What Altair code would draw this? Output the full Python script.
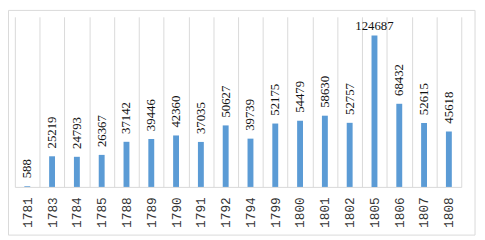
import altair as alt
import pandas as pd

years = ["1781", "1783", "1784", "1785", "1788", "1789", "1790", "1791", "1792",
         "1794", "1799", "1800", "1801", "1802", "1805", "1806", "1807", "1808"]
values = [588, 25219, 24793, 26367, 37142, 39446, 42360, 37035, 50627,
          39739, 52175, 54479, 58630, 52757, 124687, 68432, 52615, 45618]

df = pd.DataFrame({"year": years, "value": values})

W, H = 454, 173

x_enc = alt.X("year:N", sort=None, title=None,
              scale=alt.Scale(paddingInner=0, paddingOuter=0),
              axis=alt.Axis(labelAngle=270, labelFont="Liberation Mono", labelFontSize=13,
                            labelColor="#333333", ticks=False, tickSize=0, labelPadding=10,
                            domainColor="#d9d9d9", grid=True, gridColor="#d9d9d9",
                            tickBand="extent"))
y_enc = alt.Y("value:Q", title=None, scale=alt.Scale(domain=[0, 140000], nice=False),
              axis=None)

base = alt.Chart(df).encode(x=x_enc, y=y_enc)

bars = base.mark_bar(size=6, color="#5b9bd5")

labels_v = base.transform_filter(alt.datum.value < 100000).mark_text(
    angle=270, align="left", baseline="middle", dx=8,
    font="Liberation Serif", fontSize=13, color="#111111"
).encode(text="value:Q")

labels_h = base.transform_filter(alt.datum.value >= 100000).mark_text(
    align="center", baseline="alphabetic", dy=-6,
    font="Liberation Serif", fontSize=13, color="#111111"
).encode(text="value:Q")

border = alt.Chart(pd.DataFrame({"a": [0]})).mark_rect(
    fillOpacity=0, stroke="#d9d9d9", strokeWidth=1
).encode(x=alt.value(-6.5), x2=alt.value(468), y=alt.value(-6.5), y2=alt.value(222))

chart = alt.layer(border, bars, labels_v, labels_h).properties(
    width=W, height=H,
    autosize=alt.AutoSizeParams(type="none"),
    padding={"left": 7, "top": 7, "right": 16, "bottom": 52},
).configure_view(strokeWidth=0)

chart.save("out.html", embed_options={"renderer": "svg", "actions": False})
